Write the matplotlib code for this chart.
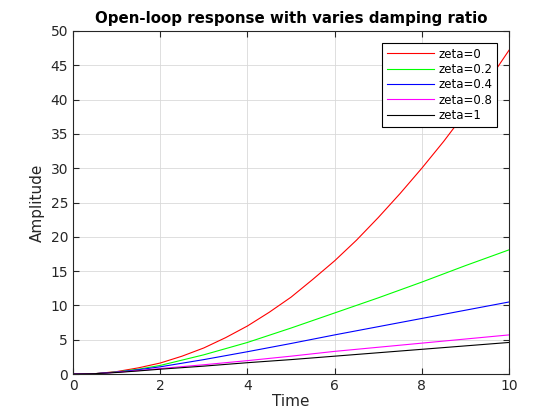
import matplotlib
matplotlib.use("Agg")
import matplotlib.pyplot as plt
import numpy as np

# values
t_red = [0, 0.5, 1, 1.5, 2, 2.5, 3, 3.5, 4, 4.5, 5, 5.5, 6, 6.5, 7, 7.5, 8, 8.5, 9, 9.5, 10]
zeta0 = [0, 0.05, 0.35, 0.9, 1.6, 2.6, 3.8, 5.3, 7.0, 9.0, 11.2, 13.8, 16.5, 19.5, 22.8, 26.3, 30.0, 33.9, 38.1, 42.5, 47.2]

t = [0, 0.5, 1, 1.5, 2, 3, 4, 5, 6, 7, 8, 9, 10]
zeta02 = [0, 0.05, 0.3, 0.7, 1.25, 2.8, 4.6, 6.7, 8.9, 11.1, 13.4, 15.8, 18.1]
zeta04 = [0, 0.05, 0.28, 0.62, 1.05, 2.1, 3.25, 4.45, 5.7, 6.9, 8.1, 9.3, 10.5]
zeta08 = [0, 0.05, 0.25, 0.5, 0.8, 1.35, 1.95, 2.6, 3.3, 3.9, 4.5, 5.1, 5.7]
zeta1 = [0, 0.05, 0.22, 0.45, 0.7, 1.15, 1.65, 2.1, 2.6, 3.1, 3.6, 4.1, 4.6]

labels = ["zeta=0", "zeta=0.2", "zeta=0.4", "zeta=0.8", "zeta=1"]

fig = plt.figure(figsize=(5.6, 4.2), dpi=100)
ax = fig.add_axes([0.1304, 0.1095, 0.7786, 0.8167])

ax.plot(t_red, zeta0, color="#ff0000", lw=0.8, label=labels[0])
ax.plot(t, zeta02, color="#00ff00", lw=0.8, label=labels[1])
ax.plot(t, zeta04, color="#0000ff", lw=0.8, label=labels[2])
ax.plot(t, zeta08, color="#ff00ff", lw=0.8, label=labels[3])
ax.plot(t, zeta1, color="#000000", lw=0.8, label=labels[4])

ax.set_xlim(0, 10)
ax.set_ylim(0, 50)
ax.set_xticks(np.arange(0, 11, 2))
ax.set_yticks(np.arange(0, 51, 5))
ax.grid(True, color="#d9d9d9", lw=0.6)
ax.set_axisbelow(True)
ax.tick_params(direction="in", top=True, right=True, labelsize=10, colors="#262626", length=4)
for s in ax.spines.values():
    s.set_linewidth(0.8)
    s.set_color("#262626")

ax.set_xlabel("Time", fontsize=11, color="#262626", labelpad=1)
ax.set_ylabel("Amplitude", fontsize=11, color="#262626", labelpad=4)
ax.set_title("Open-loop response with varies damping ratio", fontsize=10.8, fontweight="bold", pad=6)

leg = ax.legend(loc="upper right", fontsize=8.5, fancybox=False, framealpha=1,
                edgecolor="black", borderaxespad=1.0, labelspacing=0.2,
                handlelength=4.0, handletextpad=0.4, borderpad=0.4)
leg.get_frame().set_linewidth(0.8)

fig.savefig("out.png", dpi=100)
